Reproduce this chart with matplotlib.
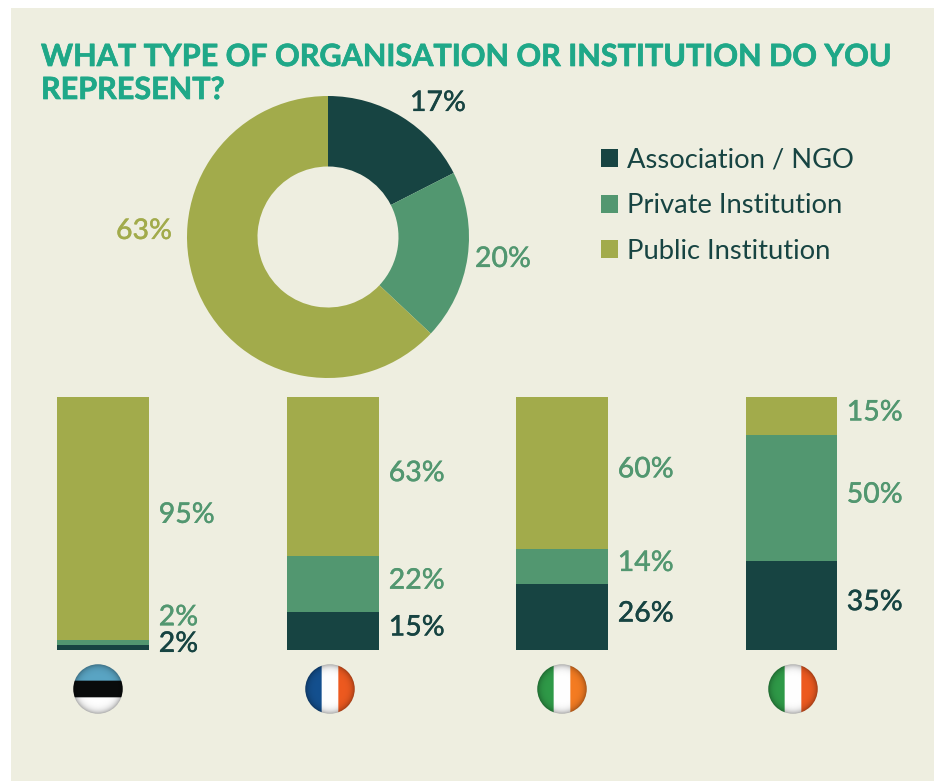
import matplotlib
matplotlib.use("Agg")
import matplotlib.pyplot as plt
import matplotlib.patheffects as pe
from matplotlib.patches import Circle, Rectangle
import numpy as np

W, H = 934, 781

# colours
BG = '#EEEEE0'
DARK = '#174442'
GREEN = '#529770'
OLIVE = '#A2AB4B'
TITLE = '#1FA888'

# data
title_lines = ['WHAT TYPE OF ORGANISATION OR INSTITUTION DO YOU', 'REPRESENT?']
types = ['Association / NGO', 'Private Institution', 'Public Institution']
overall_shares = [17.5, 19.5, 63]  # slice sizes as drawn in the picture
overall_labels = ['17%', '20%', '63%']
estonia = [2, 2, 95]
france = [15, 22, 63]
ireland = [26, 14, 60]
italy = [35, 50, 15]
estonia_flag = ['#5AA5C4', '#0A0C0C', '#FFFFFF']
france_flag = ['#14508F', '#FFFFFF', '#EE5A20']
ireland_flag = ['#2F9A48', '#FFFFFF', '#F57C22']
italy_flag = ['#2F9A48', '#FFFFFF', '#EE5A20']

plt.rcParams['font.family'] = ['Lato', 'DejaVu Sans']

fig = plt.figure(figsize=(W / 100, H / 100), dpi=100, facecolor='white')

VALUE_STYLE = dict(fontsize=20.5, fontweight='medium')


def thicken(color, width):
    return [pe.withStroke(linewidth=width, foreground=color)]


def px_axes(left, top, right, bottom):
    """Axes placed by picture pixels (y counted from the top)."""
    return fig.add_axes([left / W, 1 - bottom / H, (right - left) / W, (bottom - top) / H])


def px_text(x, y, s, **kw):
    fig.text(x / W, 1 - y / H, s, **kw)


# panel behind everything
fig.add_artist(Rectangle((11 / W, 0), 1 - 11 / W, 1 - 8 / H, transform=fig.transFigure,
                         facecolor=BG, edgecolor='none', zorder=-1))

# title
for line, y in zip(title_lines, [57, 90]):
    px_text(41, y, line, color=TITLE, fontsize=22.0, fontweight='bold', va='center',
            path_effects=thicken(TITLE, 0.5))

# donut
colors = [DARK, GREEN, OLIVE]
ax = px_axes(187, 96, 469, 378)
wedges, _ = ax.pie(overall_shares, colors=colors, startangle=90, counterclock=False, radius=1,
                   wedgeprops=dict(width=0.5))
ax.set_xlim(-1, 1)
ax.set_ylim(-1, 1)

for (x, y), label, c in zip([(438, 103), (503, 259), (144, 231)], overall_labels, colors):
    px_text(x, y, label, color=c, ha='center', va='center', path_effects=thicken(c, 0.15), **VALUE_STYLE)

# legend
fig.legend(wedges, types, loc='upper left', bbox_to_anchor=(590 / W, 1 - 137 / H), frameon=False,
           fontsize=19.7, labelcolor=DARK, handlelength=0.63, handleheight=0.63,
           handletextpad=0.31, labelspacing=0.75, borderpad=0.4, borderaxespad=0)

# stacked bars
bar_boxes = [(57, 149), (287, 379), (516, 608), (746, 837)]
countries = [estonia, france, ireland, italy]
for i, (box, vals) in enumerate(zip(bar_boxes, countries)):
    ax = px_axes(box[0], 397, box[1], 650)
    ax.axis('off')
    total = sum(vals)
    ax.set_xlim(0, 1)
    ax.set_ylim(0, total)
    bottom = 0
    for j, v in enumerate(vals):
        ax.bar(0.5, v, width=1, bottom=bottom, color=colors[j])
        # Estonia's small private share needs its label lifted clear of the one below
        lift = 25 if (i == 0 and j == 1) else 3.5
        c = DARK if j == 0 else GREEN
        ax.annotate(f'{v}%', xy=(1, bottom + v / 2), xytext=(7, lift * 0.72), textcoords='offset points',
                    color=c, va='center', annotation_clip=False, path_effects=thicken(c, 0.15), **VALUE_STYLE)
        bottom += v

# flags
flag_centres = [98, 330, 562, 793]
flags = [estonia_flag, france_flag, ireland_flag, italy_flag]
for i, (cx, stripes) in enumerate(zip(flag_centres, flags)):
    ax = px_axes(cx - 25, 664, cx + 25, 714)
    ax.axis('off')
    n = 150
    rgb = np.array([matplotlib.colors.to_rgb(c) for c in stripes])
    idx = np.minimum((np.arange(n) * 3) // n, 2)
    yy, xx = np.mgrid[-1:1:n * 1j, -1:1:n * 1j]
    img = rgb[idx][:, None, :] * np.ones((n, n, 1)) if i == 0 else rgb[idx][None, :, :] * np.ones((n, n, 1))
    shade = 1 - 0.33 * np.clip(np.hypot(xx, yy), 0, 1) ** 7
    im = ax.imshow(img * shade[:, :, None], extent=(-1, 1, -1, 1), interpolation='bilinear')
    im.set_clip_path(Circle((0, 0), 0.99, transform=ax.transData))

fig.savefig('out.png', dpi=100, facecolor=fig.get_facecolor())
